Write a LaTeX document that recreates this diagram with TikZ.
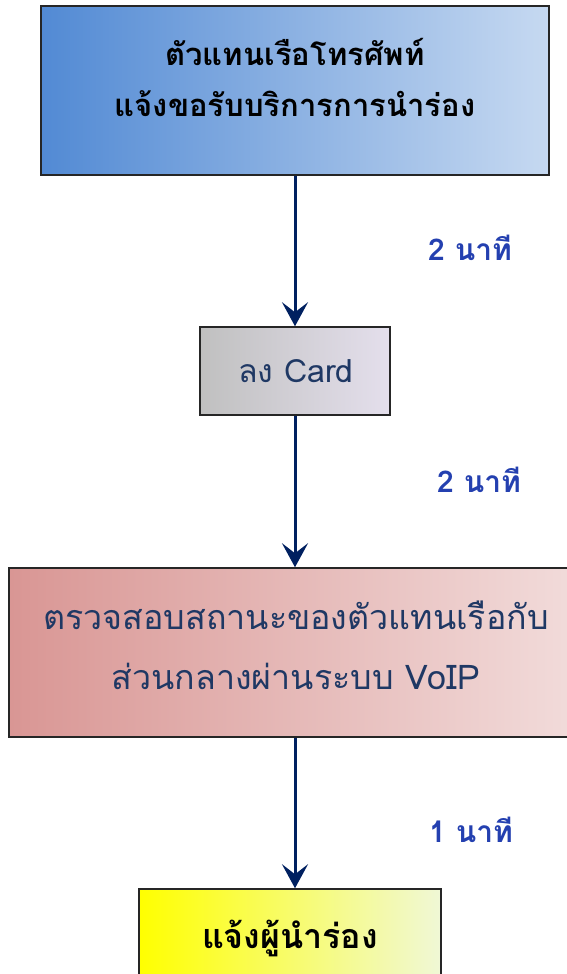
\documentclass[tikz,border=0pt]{standalone}
\usepackage{fontspec}
\newfontfamily\thaifont[Script=Thai]{Loma}
\usetikzlibrary{arrows.meta}

\definecolor{navyline}{RGB}{0,32,96}
\definecolor{timeblue}{RGB}{36,64,176}
\definecolor{stepblue}{RGB}{31,56,100}

\tikzset{every picture/.style={line width=1.5pt}}
\tikzset{
  stepbox/.style={draw=black!85, rectangle, inner sep=0pt},
  steptext/.style={font=\thaifont\fontsize{34}{60}\selectfont, align=center, inner sep=0pt},
  timetext/.style={font=\thaifont\bfseries\fontsize{30}{34}\selectfont, text=timeblue, inner sep=0pt},
  flow/.style={draw=navyline, line width=3pt, -{Stealth[length=24pt, width=26pt, inset=10pt]}}
}

\begin{document}
\begin{tikzpicture}[x=1pt,y=1pt,yscale=-1,xscale=1]
\useasboundingbox (0,0) rectangle (567,974);

%Shape: Rectangle
\node [stepbox, minimum width=508pt, minimum height=169pt, left color={rgb,255:red,82;green,138;blue,212}, right color={rgb,255:red,198;green,217;blue,241}] (call) at (295,90.5) {};
%Shape: Rectangle
\node [stepbox, minimum width=190pt, minimum height=88pt, left color={rgb,255:red,192;green,192;blue,192}, right color={rgb,255:red,228;green,223;blue,236}] (card) at (295,371) {};
%Shape: Rectangle
\node [stepbox, minimum width=572pt, minimum height=169pt, left color={rgb,255:red,217;green,150;blue,148}, right color={rgb,255:red,242;green,220;blue,219}] (check) at (295,652.5) {};
%Shape: Rectangle
\node [stepbox, minimum width=302pt, minimum height=98pt, left color={rgb,255:red,255;green,255;blue,0}, right color={rgb,255:red,240;green,248;blue,214}] (pilot) at (290,938) {};

% Text Node
\node [steptext, font=\thaifont\bfseries\fontsize{31}{51}\selectfont] (calltxt) at (295,77) {ตัวแทนเรือโทรศัพท์\\แจ้งขอรับบริการการนำร่อง};
% Text Node
\node [steptext, text=stepblue, font=\thaifont\fontsize{32}{36}\selectfont] (cardtxt) at (296,371) {ลง Card};
% Text Node
\node [steptext, text=stepblue] (checktxt) at (296,645) {ตรวจสอบสถานะของตัวแทนเรือกับ\\ส่วนกลางผ่านระบบ VoIP};
% Text Node
\node [steptext, font=\thaifont\bfseries\fontsize{34}{40}\selectfont] (pilottxt) at (290,938) {แจ้งผู้นำร่อง};

%Straight Lines
\draw [flow] (call.south) -- (card.north);
%Straight Lines
\draw [flow] (card.south) -- (check.north);
%Straight Lines
\draw [flow] (check.south) -- (check.south |- pilot.north);

% Text Node
\node [timetext] (time1) at (470,248) {2 นาที};
% Text Node
\node [timetext] (time2) at (479,480) {2 นาที};
% Text Node
\node [timetext] (time3) at (471,830) {1 นาที};

\end{tikzpicture}
\end{document}
